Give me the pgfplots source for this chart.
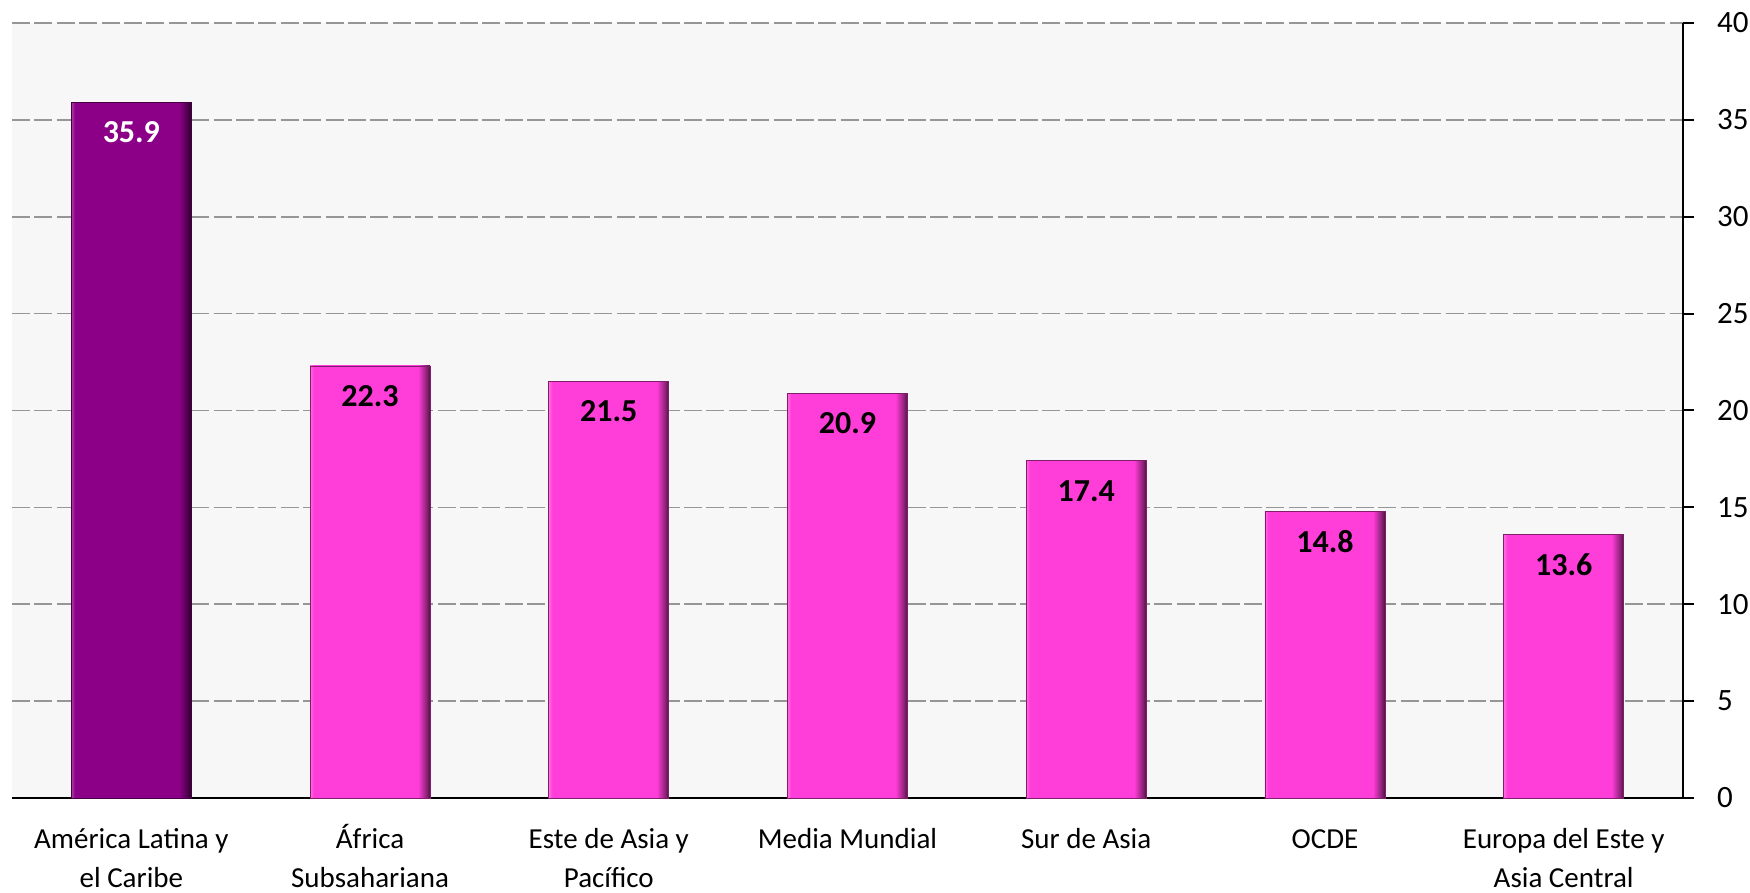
\documentclass[border=0pt]{standalone}
\usepackage{fontspec}
\setmainfont{Carlito}
\usepackage{pgfplots}
\pgfplotsset{compat=1.18}
\definecolor{bgc}{HTML}{F7F7F7}
\definecolor{gridc}{HTML}{969696}
\definecolor{purp}{HTML}{8B0087}
\definecolor{mag}{HTML}{FF3DD8}
\pgfdeclarehorizontalshading{purpshade}{100bp}{color(0bp)=(purp!75!white); color(25bp)=(purp!75!white); color(26.5bp)=(purp); color(70bp)=(purp); color(73.5bp)=(purp!55!black); color(75bp)=(purp!25!black); color(100bp)=(purp!25!black)}
\pgfdeclarehorizontalshading{magshade}{100bp}{color(0bp)=(mag!75!white); color(25bp)=(mag!75!white); color(26.5bp)=(mag); color(70bp)=(mag); color(73.5bp)=(mag!55!black); color(75bp)=(mag!30!black); color(100bp)=(mag!30!black)}
\pgfplotsset{
  purpbar/.style={ybar, bar width=60pt, bar shift=0pt, draw=purp!50!black, line width=0.4pt, shade, shading=purpshade,
    nodes near coords style={anchor=north, yshift=-6.2pt, white, font=\bfseries\fontsize{16}{19}\selectfont}},
  magbar/.style={ybar, bar width=60pt, bar shift=0pt, draw=mag!50!black, line width=0.4pt, shade, shading=magshade,
    nodes near coords style={anchor=north, yshift=-6.2pt, black, font=\bfseries\fontsize{16}{19}\selectfont}},
}
\begin{document}
\begin{tikzpicture}
\begin{axis}[
  width=835.5pt, height=387.5pt, scale only axis,
  xmin=-0.5, xmax=6.5, ymin=0, ymax=40,
  axis x line=bottom, axis y line=right,
  x axis line style={-}, y axis line style={-},
  axis line style={black, line width=1pt},
  axis background/.style={fill=bgc},
  ytick={0,5,...,40},
  xtick={0,...,6},
  xticklabels={{\strut América Latina y\\el Caribe},{\strut África\\Subsahariana},{\strut Este de Asia y\\Pacífico},{\strut Media Mundial},{\strut Sur de Asia},{\strut OCDE},{\strut Europa del Este y\\Asia Central}},
  minor xtick={-0.5,0.5,...,6.5},
  xtick style={draw=none},
  minor x tick style={black, line width=1pt},
  ytick style={black, line width=1pt},
  tick align=outside,
  major tick length=5.5pt, minor tick length=5pt,
  ymajorgrids,
  major grid style={gridc, dash pattern=on 9pt off 2.2pt, line width=0.8pt},
  /pgf/number format/assume math mode=true,
  yticklabel style={font=\fontsize{15.5}{18}\selectfont, black, xshift=8pt},
  xticklabel style={font=\fontsize{14.5}{19.5}\selectfont, align=center, anchor=north, yshift=-2.5pt},
  nodes near coords,
]
\addplot[purpbar] coordinates {(0,35.9)};
\addplot[magbar] coordinates {(1,22.3)};
\addplot[magbar] coordinates {(2,21.5)};
\addplot[magbar] coordinates {(3,20.9)};
\addplot[magbar] coordinates {(4,17.4)};
\addplot[magbar] coordinates {(5,14.8)};
\addplot[magbar] coordinates {(6,13.6)};
\end{axis}
\pgfresetboundingbox
\path (current axis.north west) ++(-6pt,11.5pt) coordinate (bbtl);
\path (current axis.south east) ++(33.5pt,-47pt) coordinate (bbbr);
\useasboundingbox (bbtl) rectangle (bbbr);
\end{tikzpicture}
\end{document}
